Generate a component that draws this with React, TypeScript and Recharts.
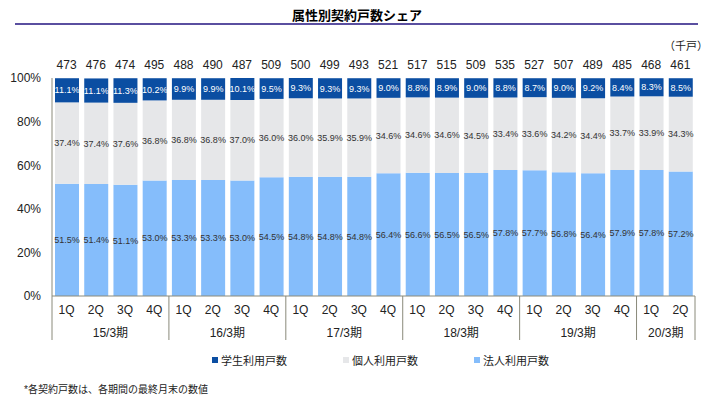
import React from 'react';
import { BarChart, Bar, XAxis, YAxis, LabelList } from 'recharts';

const quarters = ['1Q', '2Q', '3Q', '4Q', '1Q', '2Q', '3Q', '4Q', '1Q', '2Q', '3Q', '4Q', '1Q', '2Q', '3Q', '4Q', '1Q', '2Q', '3Q', '4Q', '1Q', '2Q'];
const periods = ['15/3期', '15/3期', '15/3期', '15/3期', '16/3期', '16/3期', '16/3期', '16/3期', '17/3期', '17/3期', '17/3期', '17/3期', '18/3期', '18/3期', '18/3期', '18/3期', '19/3期', '19/3期', '19/3期', '19/3期', '20/3期', '20/3期'];
const totals = [473, 476, 474, 495, 488, 490, 487, 509, 500, 499, 493, 521, 517, 515, 509, 535, 527, 507, 489, 485, 468, 461];
const student = [11.1, 11.1, 11.3, 10.2, 9.9, 9.9, 10.1, 9.5, 9.3, 9.3, 9.3, 9.0, 8.8, 8.9, 9.0, 8.8, 8.7, 9.0, 9.2, 8.4, 8.3, 8.5];
const personal = [37.4, 37.4, 37.6, 36.8, 36.8, 36.8, 37.0, 36.0, 36.0, 35.9, 35.9, 34.6, 34.6, 34.6, 34.5, 33.4, 33.6, 34.2, 34.4, 33.7, 33.9, 34.3];
const corporate = [51.5, 51.4, 51.1, 53.0, 53.3, 53.3, 53.0, 54.5, 54.8, 54.8, 54.8, 56.4, 56.6, 56.5, 56.5, 57.8, 57.7, 56.8, 56.4, 57.9, 57.8, 57.2];
const yTicks = [0, 20, 40, 60, 80, 100];

const series = [
  { key: 'student', name: '学生利用戸数', color: '#0B4EA2', label: '#ffffff' },
  { key: 'personal', name: '個人利用戸数', color: '#E6E7E9', label: '#333333' },
  { key: 'corporate', name: '法人利用戸数', color: '#85BDFB', label: '#333333' },
];

const data = quarters.map((q, i) => ({
  q,
  period: periods[i],
  total: totals[i],
  student: student[i],
  personal: personal[i],
  corporate: corporate[i],
}));

const FONT = '"Liberation Sans", Arial, "Noto Sans CJK JP", sans-serif';
const W = 708;
const H = 398;
const LEFT = 52;
const RIGHT = 13;
const STEP = (W - LEFT - RIGHT) / data.length;
const AXIS = '#8a8a7a';

const pct = (v: number) => `${v.toFixed(1)}%`;

function BottomTick(props: any) {
  const { x, y, payload } = props;
  const i = payload.index;
  const first = i === 0 || periods[i] !== periods[i - 1];
  const last = i === periods.length - 1;
  let len = 0;
  if (first) {
    while (i + len < periods.length && periods[i + len] === periods[i]) len++;
  }
  return (
    <g>
      <text x={x} y={y + 18} textAnchor="middle" fontSize={12} fill="#222" fontFamily={FONT}>
        {payload.value}
      </text>
      {first && (
        <>
          <line x1={x - STEP / 2} x2={x - STEP / 2} y1={y} y2={y + 44} stroke={AXIS} />
          <text x={x + ((len - 1) / 2) * STEP} y={y + 41} textAnchor="middle" fontSize={12} fill="#222" fontFamily={FONT}>
            {periods[i]}
          </text>
        </>
      )}
      {last && <line x1={x + STEP / 2} x2={x + STEP / 2} y1={y} y2={y + 44} stroke={AXIS} />}
    </g>
  );
}

export default function App() {
  return (
    <div style={{ position: 'absolute', left: 0, top: 0, width: W, height: H, fontFamily: FONT, background: '#fff' }}>
      <div style={{ position: 'absolute', left: 0, width: 714, top: 5, textAlign: 'center', fontSize: 13, fontWeight: 'bold', color: '#000' }}>
        属性別契約戸数シェア
      </div>
      <div style={{ position: 'absolute', left: 15, top: 23, width: 683, height: 2, background: '#5A4FA0' }} />
      <div style={{ position: 'absolute', left: 664, top: 37, fontSize: 11, color: '#222' }}>（千戸）</div>
      <BarChart
        width={W}
        height={H}
        data={data}
        margin={{ top: 40, right: RIGHT, left: 0, bottom: 50 }}
        barSize={24}
      >
        <XAxis
          xAxisId="top"
          orientation="top"
          dataKey="total"
          height={38}
          axisLine={false}
          tickLine={false}
          tickSize={0}
          tickMargin={9}
          interval={0}
          tick={{ fontSize: 12, fill: '#222', fontFamily: FONT }}
        />
        <XAxis
          dataKey="q"
          height={52}
          interval={0}
          tickLine={false}
          tickSize={0}
          tickMargin={0}
          axisLine={{ stroke: AXIS }}
          tick={<BottomTick />}
        />
        <YAxis
          width={LEFT}
          domain={[0, 100]}
          ticks={yTicks}
          tickFormatter={(v) => `${v}%`}
          tickLine={false}
          tickSize={0}
          tickMargin={11}
          axisLine={{ stroke: AXIS }}
          tick={{ fontSize: 12, fill: '#222', fontFamily: FONT }}
        />
        {[...series].reverse().map((s) => (
          <Bar key={s.key} dataKey={s.key} name={s.name} stackId="a" fill={s.color} isAnimationActive={false}>
            <LabelList dataKey={s.key} position="center" formatter={pct} fontSize={9} fill={s.label} fontFamily={FONT} />
          </Bar>
        ))}
      </BarChart>
      {series.map((s, i) => (
        <div
          key={s.key}
          style={{ position: 'absolute', left: 212 + i * 131, top: 352, fontSize: 11, color: '#222', display: 'flex', alignItems: 'center' }}
        >
          <span style={{ display: 'inline-block', width: 6, height: 6, background: s.color, marginRight: 3 }} />
          {s.name}
        </div>
      ))}
      <div style={{ position: 'absolute', left: 24, top: 381, fontSize: 10, color: '#222' }}>
        *各契約戸数は、各期間の最終月末の数値
      </div>
    </div>
  );
}
